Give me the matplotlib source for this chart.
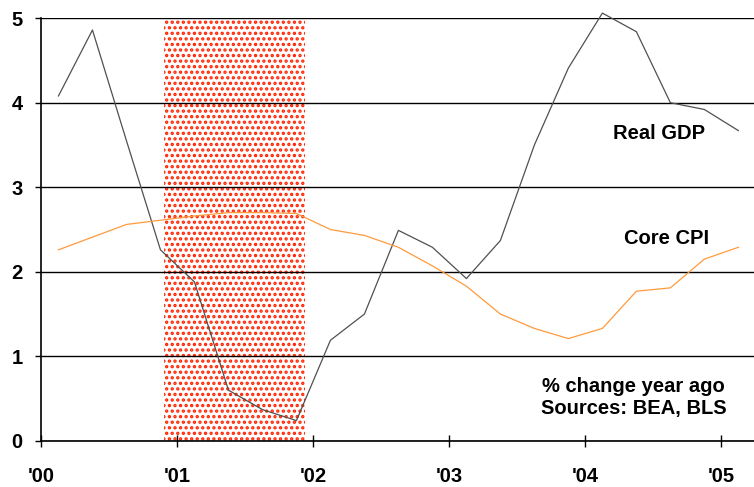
import numpy as np
import matplotlib.pyplot as plt

plt.rcParams['font.family'] = ['Liberation Sans', 'DejaVu Sans']
plt.rcParams['hatch.linewidth'] = 1.6

# quarterly points, plotted at mid-quarter
quarters = 2000.125 + 0.25 * np.arange(21)
real_gdp = [4.08, 4.86, 3.55, 2.26, 1.88, 0.60, 0.37, 0.24, 1.19, 1.50, 2.49,
            2.29, 1.92, 2.37, 3.50, 4.41, 5.06, 4.84, 4.00, 3.92, 3.67]
core_cpi = [2.26, 2.41, 2.56, 2.61, 2.66, 2.70, 2.70, 2.69, 2.50, 2.43, 2.29,
            2.07, 1.83, 1.50, 1.33, 1.21, 1.33, 1.77, 1.81, 2.15, 2.29]
recession = (2000.90, 2001.94)
year_ticks = [2000, 2001, 2002, 2003, 2004, 2005]
year_labels = ["'00", "'01", "'02", "'03", "'04", "'05"]

fig = plt.figure(figsize=(7.54, 4.87), dpi=100)
ax = fig.add_axes([0.055, 0.0947, 0.945, 0.868])

# recession shading (red dots)
ax.axvspan(recession[0], recession[1], facecolor='none', edgecolor='#ff2200',
           hatch='...', linewidth=0, zorder=1)

ax.plot(quarters, real_gdp, color='#505050', lw=0.9, zorder=3, clip_on=False)
ax.plot(quarters, core_cpi, color='#ff9a3c', lw=0.9, zorder=3, clip_on=False)

ax.set_xlim(2000, 2005.24)
ax.set_ylim(0, 5)
ax.set_yticks(range(6))
ax.set_xticks(year_ticks)
ax.set_xticklabels(year_labels)

ax.grid(axis='y', color='black', lw=1.0, zorder=2)
ax.set_axisbelow(False)
for s in ['top', 'right']:
    ax.spines[s].set_visible(False)
ax.spines['left'].set_linewidth(1.2)
ax.spines['bottom'].set_linewidth(1.2)

ax.tick_params(axis='x', direction='inout', length=9, width=1, pad=14.5,
               labelsize=14.5)
ax.tick_params(axis='y', direction='out', length=4.5, width=1, pad=9,
               labelsize=14.5)
for lab in ax.get_xticklabels() + ax.get_yticklabels():
    lab.set_fontweight('bold')

ax.text(2004.54, 3.63, 'Real GDP', ha='center', va='center',
        fontsize=14.5, fontweight='bold')
ax.text(2004.60, 2.39, 'Core CPI', ha='center', va='center',
        fontsize=14.5, fontweight='bold')
ax.text(2004.353, 0.51, '% change year ago\nSources: BEA, BLS',
        ha='center', va='center', fontsize=14.5, fontweight='bold',
        linespacing=1.2)

fig.savefig('out.png', dpi=100)
